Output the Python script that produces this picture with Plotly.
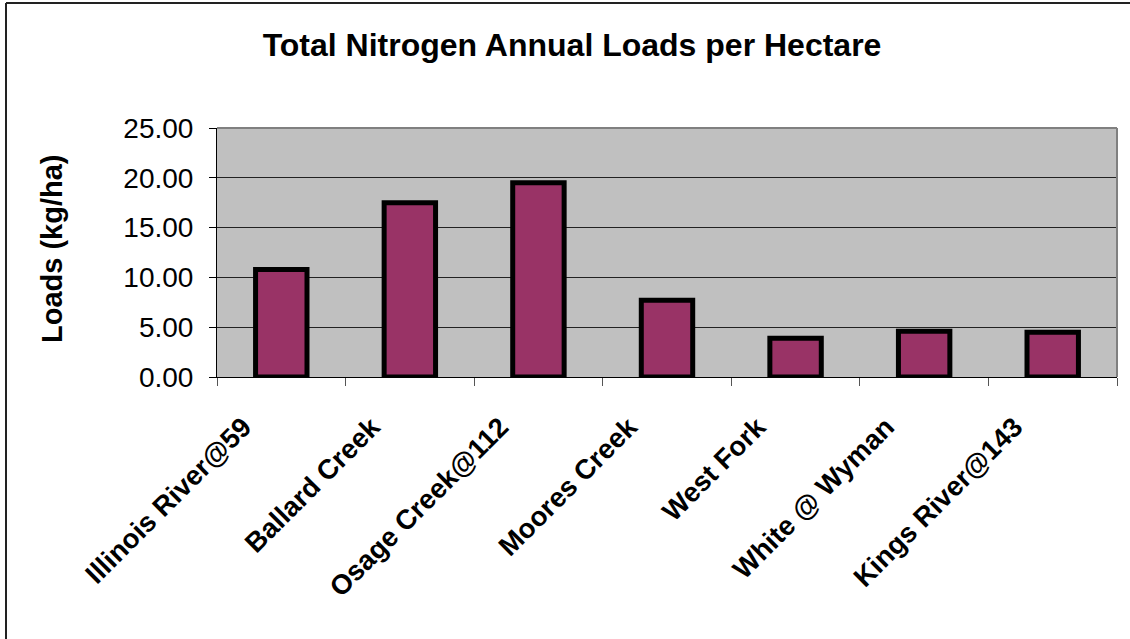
import plotly.graph_objects as go

sites = ["Illinois River@59", "Ballard Creek", "Osage Creek@112", "Moores Creek",
         "West Fork", "White @ Wyman", "Kings River@143"]
loads = [10.8, 17.5, 19.5, 7.7, 3.9, 4.6, 4.5]
y_ticks = [0, 5, 10, 15, 20, 25]

W, H = 1130, 639
L, R, T, B = 217, 13, 128, 262
pw, ph = W - L - R, H - T - B

FONT = "Liberation Sans, Arial, sans-serif"

fig = go.Figure(go.Bar(
    x=sites, y=loads, width=0.4,
    marker=dict(color="#993366", line=dict(color="black", width=5)),
))

fig.update_layout(
    width=W, height=H,
    margin=dict(l=L, r=R, t=T, b=B, autoexpand=False),
    paper_bgcolor="white", plot_bgcolor="#C0C0C0",
    showlegend=False,
    font=dict(family=FONT, color="black"),
    title=dict(text="<b>Total Nitrogen Annual Loads per Hectare</b>",
               x=572 / W, xanchor="center", y=1 - 45 / H, yanchor="middle",
               font=dict(size=32, family=FONT)),
)

fig.update_yaxes(
    range=[0, 25], tickvals=y_ticks, tickformat=".2f",
    showgrid=True, gridcolor="#222222", gridwidth=1,
    ticks="outside", ticklen=7, tickcolor="black", tickwidth=1,
    showline=True, linecolor="black", linewidth=1,
    tickfont=dict(size=28, family=FONT), ticklabelstandoff=10,
    zeroline=False, mirror=False,
)
fig.update_xaxes(
    tickangle=-45, tickson="boundaries", ticks="outside", ticklen=8,
    tickcolor="#555555", tickwidth=1,
    showline=True, linecolor="black", linewidth=1,
    tickfont=dict(size=27.5, family=FONT, weight="bold"),
    ticklabelshift=-38, ticklabelstandoff=22,
    showgrid=False,
)

# y-axis title as annotation
fig.add_annotation(text="<b>Loads (kg/ha)</b>", textangle=-90,
                   x=(52 - L) / pw, y=(H - B - 249) / ph, xref="paper", yref="paper",
                   xanchor="center", yanchor="middle", showarrow=False,
                   font=dict(size=29, family=FONT))

# grey plot border (top and right)
fig.add_shape(type="line", xref="paper", yref="paper", x0=0, x1=1, y0=1, y1=1,
              line=dict(color="#808080", width=2))
fig.add_shape(type="line", xref="paper", yref="paper", x0=1, x1=1, y0=0, y1=1,
              line=dict(color="#808080", width=2))

# outer frame (top and left)
fx0 = (6 - L) / pw
fx1 = (W - L) / pw
fy_top = (H - B - 3) / ph
fy_bot = (H - B - H) / ph
fig.add_shape(type="line", xref="paper", yref="paper", x0=fx0, x1=fx1, y0=fy_top, y1=fy_top,
              line=dict(color="#222222", width=2))
fig.add_shape(type="line", xref="paper", yref="paper", x0=fx0, x1=fx0, y0=fy_bot, y1=fy_top,
              line=dict(color="#222222", width=2))

fig.write_html("out.html", config={"displayModeBar": False},
               post_script="document.body.style.margin='0px';")
